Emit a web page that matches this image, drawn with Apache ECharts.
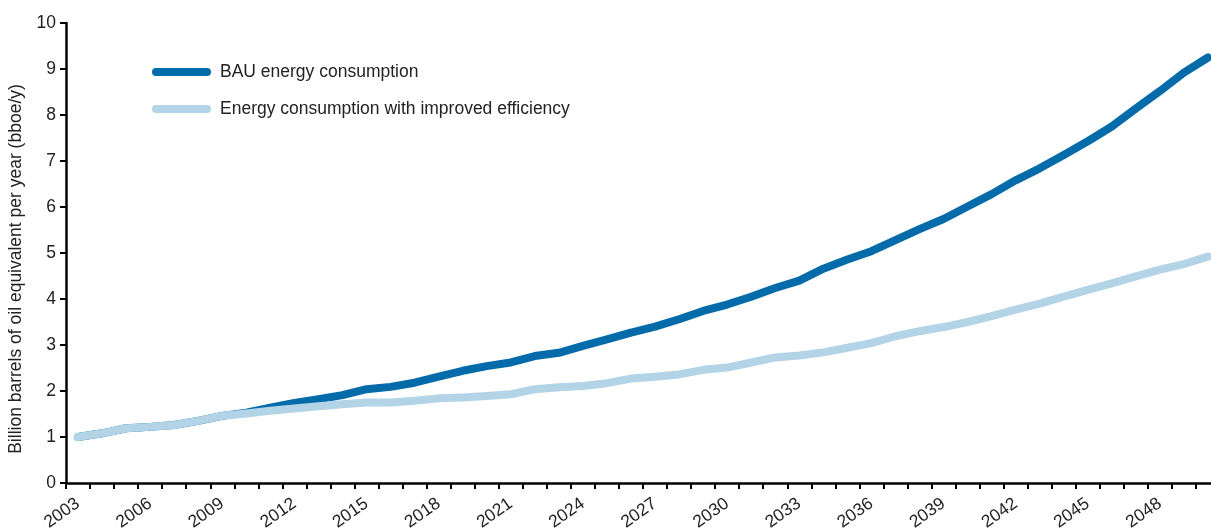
<!DOCTYPE html>
<html>
<head>
<meta charset="utf-8">
<script src="https://cdn.jsdelivr.net/npm/echarts@6/dist/echarts.min.js"></script>
<style>html,body{margin:0;padding:0;background:#fff}#c{width:1211px;height:529px}</style>
</head>
<body>
<div id="c"></div>
<script>
const years = [];
for (let y = 2003; y <= 2050; y++) years.push(String(y));

const bauName = 'BAU energy consumption';
const effName = 'Energy consumption with improved efficiency';

const bau = [1.00,1.08,1.19,1.22,1.26,1.35,1.46,1.53,1.64,1.74,1.82,1.91,2.04,2.09,2.18,2.31,
             2.44,2.54,2.62,2.76,2.83,2.98,3.12,3.27,3.40,3.56,3.74,3.88,4.05,4.24,4.40,4.66,
             4.86,5.04,5.28,5.52,5.74,6.01,6.28,6.58,6.84,7.13,7.43,7.75,8.14,8.52,8.92,9.25];
const eff = [1.00,1.08,1.19,1.22,1.26,1.35,1.46,1.51,1.57,1.62,1.67,1.71,1.75,1.75,1.79,1.84,
             1.86,1.89,1.93,2.04,2.08,2.11,2.17,2.27,2.31,2.36,2.46,2.51,2.62,2.73,2.77,2.84,
             2.94,3.04,3.19,3.30,3.39,3.50,3.63,3.77,3.90,4.05,4.20,4.34,4.49,4.64,4.76,4.92];

const yTicks = [0,1,2,3,4,5,6,7,8,9,10];
const darkBlue = '#046bab';
const lightBlue = '#b3d4e7';
const stadium = 'path://M4,0 L55,0 A4,4 0 0 1 55,8 L4,8 A4,4 0 0 1 4,0 Z';
const fontSize = 17.5;

const chart = echarts.init(document.getElementById('c'), null, {renderer: 'canvas'});
chart.setOption({
  animation: false,
  backgroundColor: '#fff',
  textStyle: {fontFamily: 'Liberation Sans, Arial, sans-serif'},
  grid: {left: 66, top: 23, width: 1154, height: 460, containLabel: false, outerBoundsMode: 'none'},
  legend: {
    orient: 'vertical', left: 152, top: 62, padding: 0,
    itemWidth: 59, itemHeight: 8, itemGap: 17,
    data: [
      {name: bauName, icon: stadium},
      {name: effName, icon: stadium}
    ],
    textStyle: {fontSize: fontSize, color: '#222', lineHeight: 20, padding: [0,0,0,4]}
  },
  xAxis: {
    type: 'category', data: years, boundaryGap: true,
    axisLine: {lineStyle: {color: '#000', width: 2.5}},
    axisTick: {show: true, interval: 0, length: 6, lineStyle: {color: '#000', width: 2}},
    axisLabel: {interval: 2, rotate: 35, fontSize: fontSize, color: '#222', margin: 19}
  },
  yAxis: {
    type: 'value', min: yTicks[0], max: yTicks[yTicks.length-1], interval: 1,
    name: 'Billion barrels of oil equivalent per year (bboe/y)',
    nameLocation: 'middle', nameGap: 28,
    nameTextStyle: {fontSize: fontSize, color: '#222', padding: [0, 32, 0, 0]},
    axisLine: {show: true, lineStyle: {color: '#000', width: 2.5}},
    axisTick: {show: true, length: 6, lineStyle: {color: '#000', width: 2}},
    axisLabel: {fontSize: fontSize, color: '#222', margin: 10},
    splitLine: {show: false}
  },
  series: [
    {name: bauName, type: 'line', data: bau, symbol: 'none',
     lineStyle: {color: darkBlue, width: 8, cap: 'round', join: 'round'},
     itemStyle: {color: darkBlue}},
    {name: effName, type: 'line', data: eff, symbol: 'none',
     lineStyle: {color: lightBlue, width: 8, cap: 'round', join: 'round'},
     itemStyle: {color: lightBlue}}
  ]
});
</script>
</body>
</html>
